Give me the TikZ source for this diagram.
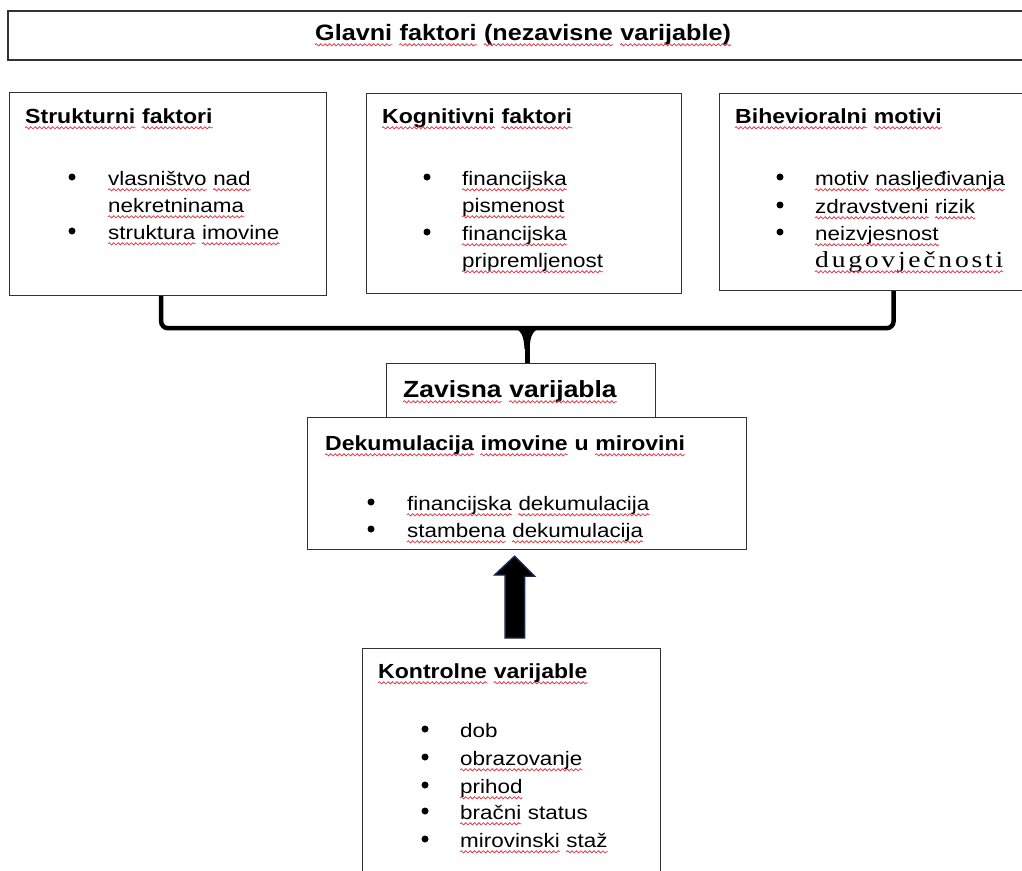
\documentclass[tikz,border=0pt]{standalone}
\usepackage{fontspec}
\setmainfont{Liberation Sans}
\usetikzlibrary{calc,decorations.pathmorphing}
\newfontfamily\regf[FakeStretch=1.15]{Liberation Sans}
\newfontfamily\headf[FakeStretch=1.13]{Liberation Sans Bold}
\newfontfamily\serf[FakeStretch=1.2,LetterSpace=12]{Liberation Serif}
\definecolor{wavec}{RGB}{222,62,78}
\definecolor{boxc}{RGB}{50,50,50}
\definecolor{navyc}{RGB}{26,40,80}
\tikzset{
  box/.style={draw=boxc, line width=1.2pt, anchor=north west, inner sep=0pt, fill=white},
  txt/.style={anchor=base west, inner sep=0pt, font=\regf\fontsize{19.5}{23}\selectfont},
  hd/.style={anchor=base west, inner sep=0pt, font=\headf\fontsize{20.4}{24}\selectfont},
  ttl/.style={anchor=base west, inner sep=0pt, font=\headf\fontsize{22.3}{26}\selectfont},
  zv/.style={anchor=base west, inner sep=0pt, font=\headf\fontsize{23.4}{27}\selectfont},
  bul/.style={circle, fill=black, inner sep=0pt, minimum size=7pt},
  wavest/.style={draw=wavec, line width=0.8pt, decorate, decoration={snake, amplitude=1.1pt, segment length=4.4pt}},
  bracest/.style={line width=4.5pt, black, rounded corners=7pt},
  arrowst/.style={fill=black, draw=navyc, line width=1.4pt, line join=miter}
}
\begin{document}
\begin{tikzpicture}[x=1pt,y=-1pt]
\useasboundingbox (0,0) rectangle (1022,870);
\fill[white] (0,0) rectangle (1022,870);
% boxes
\node[box, line width=1.6pt, minimum width=1030pt, minimum height=49pt] (top) at (7,10) {};
\node[box, minimum width=317pt, minimum height=203pt] (strukt) at (9,92) {};
\node[box, minimum width=315pt, minimum height=200pt] (kogn) at (366,93) {};
\node[box, minimum width=318pt, minimum height=197pt] (bihev) at (719,93) {};
\node[box, minimum width=269pt, minimum height=54pt] (zav) at (386,363) {};
\node[box, minimum width=439pt, minimum height=132pt] (dekum) at (307,417) {};
\node[box, minimum width=298pt, minimum height=240pt] (kontr) at (362,648) {};
% title
\node[ttl] (t1) at (315,40) {Glavni};
\node[ttl] (t2) at ([xshift=7pt]t1.base east) {faktori};
\node[ttl] (t3) at ([xshift=7pt]t2.base east) {(nezavisne};
\node[ttl] (t4) at ([xshift=7pt]t3.base east) {varijable)};
% Strukturni
\node[hd] (sh1) at (25,123) {Strukturni};
\node[hd] (sh2) at ([xshift=6.4pt]sh1.base east) {faktori};
\node[bul] (sb1) at (72,177) {};
\node[bul] (sb2) at (72,231) {};
\node[txt] (s1) at (108,185) {vlasništvo};
\node[txt] (s1b) at ([xshift=6.2pt]s1.base east) {nad};
\node[txt] (s2) at (108,212) {nekretninama};
\node[txt] (s3) at (108,239) {struktura};
\node[txt] (s3b) at ([xshift=6.2pt]s3.base east) {imovine};
% Kognitivni
\node[hd] (kh1) at (382,123) {Kognitivni};
\node[hd] (kh2) at ([xshift=6.4pt]kh1.base east) {faktori};
\node[bul] (kb1) at (427,177) {};
\node[bul] (kb2) at (427,232) {};
\node[txt] (k1) at (462,185) {financijska};
\node[txt] (k2) at (462,212) {pismenost};
\node[txt] (k3) at (462,240) {financijska};
\node[txt] (k4) at (462,267) {pripremljenost};
% Bihevioralni
\node[hd] (bh1) at (735,123) {Bihevioralni};
\node[hd] (bh2) at ([xshift=6.4pt]bh1.base east) {motivi};
\node[bul] (bb1) at (780,177) {};
\node[bul] (bb2) at (780,205) {};
\node[bul] (bb3) at (780,232) {};
\node[txt] (b1) at (815,185) {motiv};
\node[txt] (b1b) at ([xshift=6.2pt]b1.base east) {nasljeđivanja};
\node[txt] (b2) at (815,213) {zdravstveni};
\node[txt] (b2b) at ([xshift=6.2pt]b2.base east) {rizik};
\node[txt] (b3) at (815,240) {neizvjesnost};
\node[txt, font=\serf\fontsize{23}{26}\selectfont] (b4) at (815,267) {dugovječnosti};
% Zavisna
\node[zv] (zh1) at (403,397) {Zavisna};
\node[zv] (zh2) at ([xshift=7.3pt]zh1.base east) {varijabla};
% Dekumulacija
\node[hd] (dh1) at (325,450) {Dekumulacija};
\node[hd] (dh2) at ([xshift=6.4pt]dh1.base east) {imovine};
\node[hd] (dh3) at ([xshift=6.4pt]dh2.base east) {u};
\node[hd] (dh4) at ([xshift=6.4pt]dh3.base east) {mirovini};
\node[bul] (db1) at (371,502) {};
\node[bul] (db2) at (371,529) {};
\node[txt] (d1) at (407,510) {financijska};
\node[txt] (d1b) at ([xshift=6.2pt]d1.base east) {dekumulacija};
\node[txt] (d2) at (407,537) {stambena};
\node[txt] (d2b) at ([xshift=6.2pt]d2.base east) {dekumulacija};
% Kontrolne
\node[hd] (ch1) at (378,678) {Kontrolne};
\node[hd] (ch2) at ([xshift=6.4pt]ch1.base east) {varijable};
\node[bul] (cb1) at (425,729) {};
\node[bul] (cb2) at (425,757) {};
\node[bul] (cb3) at (425,785) {};
\node[bul] (cb4) at (425,811) {};
\node[bul] (cb5) at (425,839) {};
\node[txt] (c1) at (460,737) {dob};
\node[txt] (c2) at (460,765) {obrazovanje};
\node[txt] (c3) at (460,793) {prihod};
\node[txt] (c4) at (460,819) {bračni};
\node[txt] (c4b) at ([xshift=6.2pt]c4.base east) {status};
\node[txt] (c5) at (460,847) {mirovinski};
\node[txt] (c5b) at ([xshift=6.2pt]c5.base east) {staž};
% spell-check wavy underlines
\foreach \n in {t1,t2,t3,t4,sh1,sh2,s1,s1b,s2,s3,s3b,kh1,kh2,k1,k2,k3,k4,bh1,bh2,b1,b1b,b2,b2b,b3,b4,
  zh1,zh2,dh1,dh2,dh4,d1,d1b,d2,d2b,ch1,ch2,c2,c3,c4,c5,c5b}
  \draw[wavest] ([yshift=-4.8pt]\n.base west) -- ([yshift=-4.8pt]\n.base east);
% brace
\coordinate (bl) at ($(strukt.south west)!0.478!(strukt.south east)$);
\coordinate (br) at ($(bihev.south west)!0.547!(bihev.south east)$);
\coordinate (sp) at (527,363);
\draw[bracest] (bl) |- ($(br)+(0,37)$) -- (br);
\draw[line width=5pt] ($(sp)+(0,-36)$) -- (sp);
\fill ($(sp)+(-15,-36)$) .. controls ($(sp)+(-6,-33)$) and ($(sp)+(-3.2,-28)$) .. ($(sp)+(-2.5,-14)$)
  -- ($(sp)+(2.5,-14)$) .. controls ($(sp)+(3.2,-28)$) and ($(sp)+(6,-33)$) .. ($(sp)+(15,-36)$) -- cycle;
% arrow from Kontrolne to Dekumulacija
\coordinate (atip) at ($(dekum.south)+(-12.5,6)$);
\coordinate (abot) at ($(kontr.north)+(3,-10)$);
\filldraw[arrowst] (atip) -- ++(20,20) -- ++(-10,0) |- (abot) -- ++(-9.5,0) -- ++(0,-63) -- ++(-10.5,0) -- cycle;
\end{tikzpicture}
\end{document}
